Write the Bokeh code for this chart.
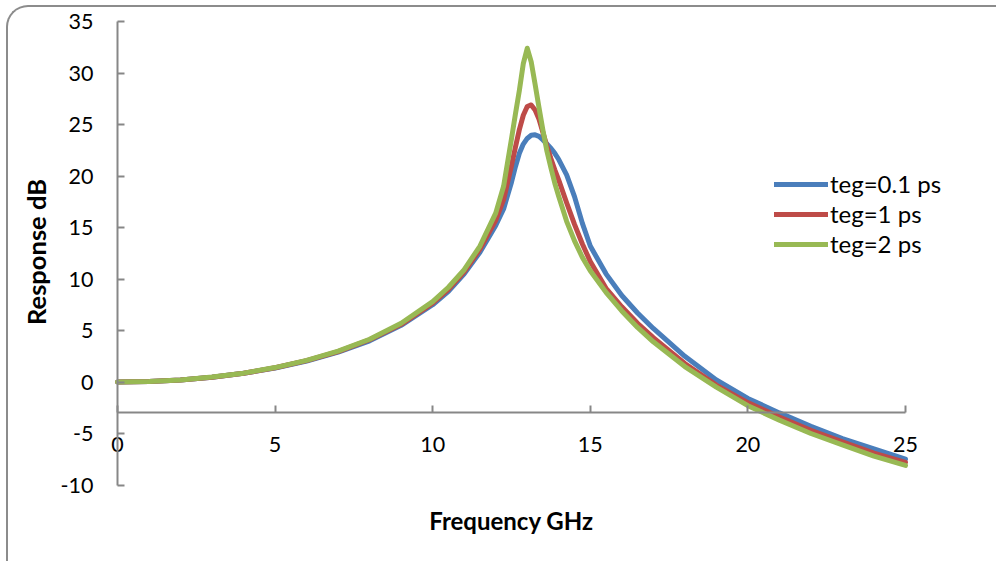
import math
from bokeh.plotting import figure
from bokeh.models import FixedTicker, Legend, LegendItem, ColumnDataSource, Label
from bokeh.embed import file_html
from bokeh.resources import INLINE

# ---- data ----
freq = [0, 1, 2, 3, 4, 5, 6, 7, 8, 9,
        10, 10.5, 11, 11.5, 12,
        12.25, 12.5, 12.625, 12.75, 12.875,
        13, 13.125, 13.25, 13.375, 13.5,
        13.625, 13.75, 13.875, 14, 14.25,
        14.5, 14.75, 15, 15.5, 16,
        16.5, 17, 18, 19, 20,
        21, 22, 23, 24, 25]
teg_0_1 = [0, 0.05, 0.19, 0.46, 0.84, 1.36, 2.04, 2.9, 4.0, 5.5,
           7.5, 8.8, 10.5, 12.6, 15.2,
           16.8, 19.4, 20.9, 22.2, 23.1,
           23.65, 23.95, 24.0, 23.85, 23.5,
           23.1, 22.7, 22.2, 21.6, 20.1,
           18.0, 15.4, 13.2, 10.5, 8.4,
           6.7, 5.2, 2.5, 0.2, -1.6,
           -3.0, -4.3, -5.5, -6.5, -7.5]
teg_1 = [0, 0.05, 0.2, 0.47, 0.85, 1.38, 2.07, 2.95, 4.1, 5.6,
         7.65, 9.0, 10.7, 12.9, 15.7,
         17.7, 21.0, 22.8, 24.5, 25.9,
         26.75, 26.9, 26.4, 25.5, 24.2,
         22.9, 21.7, 20.6, 19.6, 17.4,
         15.3, 13.4, 11.7, 9.1, 7.3,
         5.7, 4.3, 1.8, -0.3, -2.0,
         -3.4, -4.7, -5.8, -6.9, -7.8]
teg_2 = [0, 0.05, 0.2, 0.48, 0.86, 1.4, 2.1, 3.0, 4.15, 5.7,
         7.8, 9.2, 10.9, 13.2, 16.4,
         19.0, 23.6, 26.0, 28.3, 30.9,
         32.4, 31.1, 28.9, 26.6, 24.4,
         22.4, 20.8, 19.3, 18.0, 15.6,
         13.7, 12.1, 10.8, 8.7, 6.9,
         5.3, 3.9, 1.5, -0.5, -2.3,
         -3.7, -5.0, -6.1, -7.2, -8.1]
series_names = ["teg=0.1 ps", "teg=1 ps", "teg=2 ps"]
series_colors = ["#4A7EBB", "#BE4B48", "#98B954"]
x_ticks = [0, 5, 10, 15, 20, 25]
x_tick_labels = ["0", "5", "10", "15", "20", "25"]
y_ticks = [-10, -5, 0, 5, 10, 15, 20, 25, 30, 35]
y_tick_labels = ["-10", "-5", "0", "5", "10", "15", "20", "25", "30", "35"]
x_title = "Frequency GHz"
y_title = "Response dB"

FONT = "Lato"
AXIS_GRAY = "#878787"

# frame covers the whole canvas so that axes drawn at fixed locations are not clipped
p = figure(width=990, height=556, x_range=(-3.458, 27), y_range=(-15, 36.36),
           output_backend="svg", toolbar_location=None,
           min_border_left=0, min_border_right=30,
           min_border_top=0, min_border_bottom=27)
p.border_fill_alpha = 0
p.background_fill_color = None
p.outline_line_color = None
p.grid.visible = False
p.styles = {"border-left": "2px solid #8c8c8c", "border-top": "2px solid #8c8c8c",
            "border-top-left-radius": "22px", "margin-left": "6px", "margin-top": "5px"}

# axes
xa = p.xaxis[0]
ya = p.yaxis[0]
xa.fixed_location = -3
ya.fixed_location = 0
xa.bounds = (0, 25)
ya.bounds = (-10, 35)
for ax in (xa, ya):
    ax.axis_line_color = AXIS_GRAY
    ax.axis_line_width = 2
    ax.major_tick_line_color = AXIS_GRAY
    ax.major_tick_line_width = 2
    ax.major_tick_in = 7
    ax.major_tick_out = 0
    ax.minor_tick_line_color = None
    ax.major_label_text_font = FONT
    ax.major_label_text_font_size = "21.5px"
    ax.major_label_text_color = "black"
xa.ticker = FixedTicker(ticks=x_ticks)
ya.ticker = FixedTicker(ticks=y_ticks)
xa.major_label_overrides = dict(zip(x_ticks, x_tick_labels))
ya.major_label_overrides = dict(zip(y_ticks, y_tick_labels))
xa.major_label_standoff = 24
ya.major_label_standoff = 24

# axis titles
p.add_layout(Label(x=12.5, y=-13.45, text=x_title, text_align="center", text_baseline="middle",
                   text_font=FONT, text_font_size="24px", text_font_style="bold",
                   text_color="black"))
p.add_layout(Label(x=-2.586, y=12.62, text=y_title, angle=math.pi / 2,
                   text_align="center", text_baseline="middle",
                   text_font=FONT, text_font_size="25.5px", text_font_style="bold",
                   text_color="black"))

src = ColumnDataSource(dict(f=freq, a=teg_0_1, b=teg_1, c=teg_2))
renderers = []
for col, color in zip(["a", "b", "c"], series_colors):
    r = p.line("f", col, source=src, line_color=color, line_width=5,
               line_join="round", line_cap="round")
    renderers.append(r)

legend = Legend(items=[LegendItem(label=n, renderers=[r]) for n, r in zip(series_names, renderers)],
                location=(766, 278), orientation="vertical",
                glyph_width=54, glyph_height=28, label_height=28, label_standoff=2,
                spacing=1, padding=0, margin=0,
                border_line_color=None, background_fill_alpha=0,
                label_text_font=FONT, label_text_font_size="24px", label_text_color="black")
p.add_layout(legend)

open("out.html", "w").write(file_html(p, INLINE))
